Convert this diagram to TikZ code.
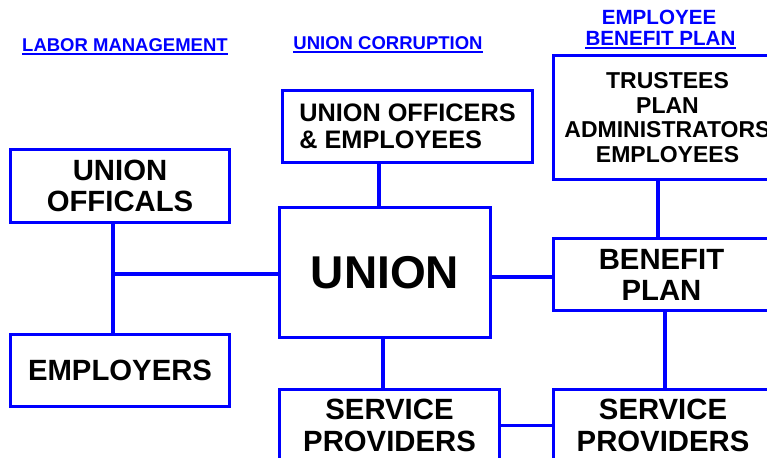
\documentclass[tikz,border=0pt]{standalone}
\usepackage{fontspec}
\setmainfont{Liberation Sans}
\definecolor{pureblue}{RGB}{0,0,255}
\begin{document}
\begin{tikzpicture}[x=1pt,y=-1pt,
  box/.style={draw=pureblue, line width=3pt, fill=white, align=center, inner sep=0pt, anchor=north west, text=black},
  big/.style={font=\fontsize{29.3}{31}\selectfont\bfseries},
  conn/.style={draw=pureblue, line width=3.6pt},
  title/.style={text=pureblue, inner sep=0pt, anchor=base, font=\fontsize{18.5}{20}\selectfont\bfseries},
  titleb/.style={title, font=\fontsize{20.6}{21}\selectfont\bfseries},
  uline/.style={draw=pureblue, line width=1.7pt}]
\clip (0,0) rectangle (767,457);
\fill[white] (0,0) rectangle (767,457);

% titles
\node[title] (t1) at (125,52) {LABOR MANAGEMENT};
\node[title] (t2) at (388,50) {UNION CORRUPTION};
\node[titleb] (t3a) at (659,25) {EMPLOYEE};
\node[titleb] (t3b) at (660.5,46) {BENEFIT PLAN};
\draw[uline] ([yshift=-1.8pt]t1.base west) -- ([yshift=-1.8pt]t1.base east);
\draw[uline] ([yshift=-1.8pt]t2.base west) -- ([yshift=-1.8pt]t2.base east);
\draw[uline] ([yshift=-2pt]t3b.base west) -- ([yshift=-2pt]t3b.base east);

% boxes
\node[box, big, minimum width=219pt, minimum height=73pt] (offic) at (9,148) {UNION\\OFFICALS};
\node[box, big, minimum width=219pt, minimum height=72pt] (employers) at (9,333) {EMPLOYERS};
\node[box, align=left, font=\fontsize{25.3}{27}\selectfont\bfseries, minimum width=250pt, minimum height=72pt] (officers) at (281,89) {UNION OFFICERS\\\& EMPLOYEES};
\node[box, font=\fontsize{46}{50}\selectfont\bfseries, minimum width=211pt, minimum height=130pt] (union) at (278,206) {UNION};
\node[box, font=\fontsize{23}{24.7}\selectfont\bfseries, minimum width=228pt, minimum height=124pt] (trustees) at (552,54) {TRUSTEES\\PLAN\\ADMINISTRATORS\\EMPLOYEES};
\node[box, big, minimum width=216pt, minimum height=72pt] (benefit) at (552,237) {BENEFIT\\PLAN};
\node[box, font=\fontsize{29.3}{32}\selectfont\bfseries, minimum width=220pt, minimum height=72pt] (sp1) at (278,388) {SERVICE\\PROVIDERS};
\node[box, font=\fontsize{29.3}{32}\selectfont\bfseries, minimum width=219pt, minimum height=72pt] (sp2) at (552,388) {SERVICE\\PROVIDERS};

% connectors
\coordinate (j1) at (113,274);
\coordinate (j2) at (379,180);
\coordinate (j3) at (520,277);
\coordinate (j4) at (383,360);
\coordinate (j5) at (658,205);
\coordinate (j6) at (665,350);
\draw[conn] (offic.south -| j1) -- (employers.north -| j1);
\draw[conn] (j1) -- (union.west |- j1);
\draw[conn] (officers.south -| j2) -- (union.north -| j2);
\draw[conn] (union.east |- j3) -- (benefit.west |- j3);
\draw[conn] (union.south -| j4) -- (sp1.north -| j4);
\draw[conn] (trustees.south -| j5) -- (benefit.north -| j5);
\draw[conn] (benefit.south -| j6) -- (sp2.north -| j6);
\draw[conn] (sp1.east) -- (sp2.west |- sp1.east);
\end{tikzpicture}
\end{document}
